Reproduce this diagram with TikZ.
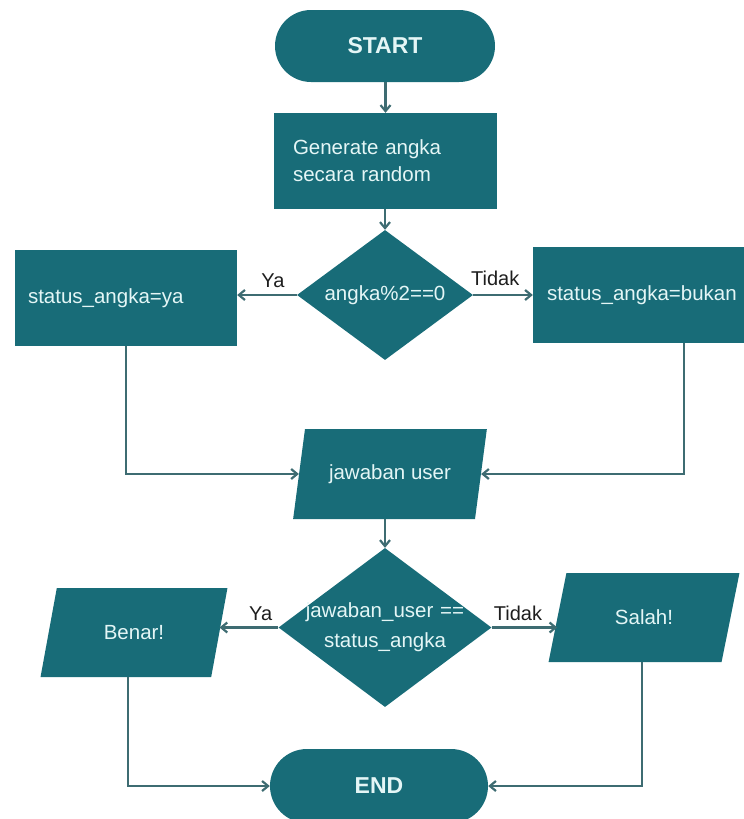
\documentclass[tikz,border=0pt]{standalone}
\usepackage{fontspec}
\setmainfont{Liberation Sans}
\usetikzlibrary{shapes.geometric,shapes.misc,arrows.meta}
\definecolor{tealfill}{RGB}{24,108,120}
\definecolor{linecol}{RGB}{62,108,114}
\definecolor{boxtext}{RGB}{228,246,246}
\definecolor{labtext}{RGB}{30,30,30}
\tikzset{
  base/.style={fill=tealfill, draw=none, text=boxtext, font=\fontsize{20.5}{27}\selectfont, inner sep=0pt},
  term/.style={base, rounded rectangle, font=\fontsize{23}{27}\selectfont\bfseries, minimum width=220pt, minimum height=72pt},
  procbox/.style={base, rectangle, align=left},
  decide/.style={base, diamond, align=center, shape aspect=1.34},
  io/.style={base, trapezium, trapezium left angle=66, trapezium right angle=114, trapezium stretches=true, align=center},
  arr/.style={draw=linecol, line width=2.6pt, -{Straight Barb[length=6pt,width=10pt,line width=2.2pt]}},
  lab/.style={text=labtext, font=\fontsize{20}{24}\selectfont, inner sep=2pt}
}
\begin{document}
\begin{tikzpicture}[x=1pt,y=-1pt]
\useasboundingbox (0,0) rectangle (744,819);
\node[term] (start) at (385,46) {START};
\node[procbox, text width=185pt, inner xsep=19pt, minimum height=96pt] (gen) at (385.5,161) {Generate angka\\secara random};
\node[decide, minimum width=176pt, minimum height=130pt] (d1) at (385,295) {angka\%2==0};
\node[procbox, text width=196pt, inner xsep=13pt, minimum height=96pt] (lbox) at (126,298) {status\_angka=ya};
\node[procbox, text width=199pt, inner xsep=14pt, minimum height=96pt] (rbox) at (646.5,295) {status\_angka=bukan};
\node[io, minimum width=194pt, minimum height=90pt] (jaw) at (390,474) {jawaban user};
\node[decide, minimum width=213pt, minimum height=159pt, text width=140pt, font=\fontsize{20.5}{30}\selectfont] (d2) at (385,627.5) {\makebox[140pt]{jawaban\_user ==}\\\makebox[140pt]{status\_angka}};
\node[io, minimum width=188pt, minimum height=89pt] (benar) at (134,632.5) {Benar!};
\node[io, minimum width=192pt, minimum height=89pt] (salah) at (644,617.5) {Salah!};
\node[term, minimum width=218pt, minimum height=74pt] (end) at (379,786) {END};

\draw[arr] (start.south -| gen.north) -- (gen.north);
\draw[arr] (gen.south -| d1.north) -- (d1.north);
\draw[arr] (d1.west) -- (d1.west -| lbox.east) node[lab, pos=0.4, above=4pt] (ya1) {Ya};
\draw[arr] (d1.east) -- (d1.east -| rbox.west) node[lab, pos=0.37, above=6pt] (tidak1) {Tidak};
\draw[arr] (lbox.south) |- (jaw.west);
\draw[arr] ([xshift=37.5pt]rbox.south) |- (jaw.east);
\draw[arr] (jaw.south -| d2.north) -- (d2.north);
\draw[arr] (d2.west) -- (d2.west -| benar.east) node[lab, pos=0.3, above=4pt] (ya2) {Ya};
\draw[arr] (d2.east) -- (d2.east -| salah.west) node[lab, pos=0.4, above=4pt] (tidak2) {Tidak};
\draw[arr] ([xshift=-6pt]benar.south) |- (end.west);
\draw[arr] ([xshift=-2pt]salah.south) |- (end.east);
\end{tikzpicture}
\end{document}
